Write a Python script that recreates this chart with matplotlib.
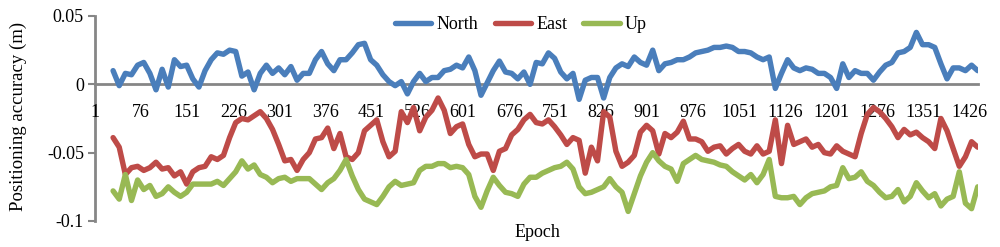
import numpy as np
import matplotlib
matplotlib.use("Agg")
import matplotlib.pyplot as plt

plt.rcParams['font.family'] = ['Liberation Serif', 'DejaVu Serif']
plt.rcParams['axes.unicode_minus'] = False

# epochs of the read-off samples (first ~30 epochs are empty in the chart)
epochs = np.arange(30, 1441, 10)
n_epochs = 1440
tick_labels = [str(t) for t in range(1, 1427, 75)]

north = [
    0.010, -0.001, 0.008, 0.007, 0.014, 0.016, 0.008, -0.004, 0.011, -0.002,
    0.018, 0.013, 0.014, 0.004, -0.002, 0.010, 0.018, 0.023, 0.022, 0.025,
    0.024, 0.006, 0.009, -0.004, 0.008, 0.014, 0.008, 0.012, 0.007, 0.013,
    0.003, 0.008, 0.008, 0.018, 0.024, 0.015, 0.010, 0.018, 0.018, 0.023,
    0.029, 0.030, 0.018, 0.014, 0.007, 0.002, -0.001, 0.002, -0.007, 0.002,
    0.008, 0.002, 0.005, 0.005, 0.010, 0.011, 0.014, 0.012, 0.020, 0.010,
    -0.008, 0.001, 0.010, 0.017, 0.009, 0.008, 0.004, 0.009, 0.000, 0.016,
    0.015, 0.023, 0.019, 0.009, 0.004, 0.008, -0.011, 0.003, 0.005, 0.005,
    -0.010, 0.005, 0.012, 0.015, 0.013, 0.020, 0.016, 0.014, 0.025, 0.010,
    0.015, 0.016, 0.018, 0.018, 0.020, 0.023, 0.024, 0.025, 0.027, 0.027,
    0.028, 0.027, 0.024, 0.024, 0.023, 0.020, 0.018, 0.020, -0.003, 0.008,
    0.018, 0.012, 0.010, 0.012, 0.011, 0.008, 0.008, 0.005, -0.003, 0.015,
    0.005, 0.010, 0.008, 0.008, 0.003, 0.009, 0.014, 0.016, 0.023, 0.024,
    0.027, 0.038, 0.029, 0.029, 0.027, 0.015, 0.004, 0.012, 0.012, 0.010,
    0.014, 0.010,
]

east = [
    -0.039, -0.046, -0.066, -0.061, -0.060, -0.063, -0.061, -0.057, -0.062, -0.061,
    -0.067, -0.064, -0.073, -0.064, -0.061, -0.060, -0.053, -0.055, -0.052, -0.039,
    -0.028, -0.025, -0.026, -0.023, -0.020, -0.025, -0.033, -0.044, -0.056, -0.055,
    -0.063, -0.055, -0.050, -0.040, -0.039, -0.032, -0.047, -0.036, -0.053, -0.055,
    -0.050, -0.034, -0.030, -0.026, -0.042, -0.053, -0.049, -0.020, -0.028, -0.017,
    -0.034, -0.024, -0.019, -0.010, -0.019, -0.036, -0.031, -0.029, -0.044, -0.053,
    -0.051, -0.051, -0.063, -0.049, -0.047, -0.037, -0.033, -0.026, -0.022, -0.028,
    -0.029, -0.026, -0.031, -0.037, -0.044, -0.039, -0.041, -0.065, -0.046, -0.056,
    -0.020, -0.024, -0.049, -0.060, -0.057, -0.052, -0.035, -0.030, -0.034, -0.051,
    -0.036, -0.039, -0.035, -0.027, -0.040, -0.040, -0.042, -0.049, -0.046, -0.045,
    -0.051, -0.047, -0.044, -0.049, -0.051, -0.045, -0.051, -0.049, -0.026, -0.058,
    -0.030, -0.044, -0.042, -0.040, -0.046, -0.044, -0.050, -0.051, -0.045, -0.049,
    -0.051, -0.053, -0.036, -0.022, -0.017, -0.020, -0.025, -0.031, -0.039, -0.033,
    -0.037, -0.035, -0.039, -0.042, -0.047, -0.025, -0.034, -0.047, -0.060, -0.053,
    -0.042, -0.046,
]

up = [
    -0.078, -0.084, -0.066, -0.085, -0.070, -0.077, -0.074, -0.082, -0.080, -0.075,
    -0.079, -0.082, -0.079, -0.073, -0.073, -0.073, -0.073, -0.071, -0.074, -0.069,
    -0.064, -0.056, -0.062, -0.059, -0.066, -0.068, -0.072, -0.069, -0.068, -0.071,
    -0.069, -0.069, -0.069, -0.073, -0.077, -0.072, -0.069, -0.063, -0.055, -0.067,
    -0.077, -0.084, -0.086, -0.088, -0.082, -0.075, -0.071, -0.074, -0.073, -0.072,
    -0.063, -0.060, -0.060, -0.058, -0.058, -0.061, -0.060, -0.061, -0.066, -0.082,
    -0.090, -0.078, -0.068, -0.074, -0.079, -0.080, -0.082, -0.073, -0.068, -0.068,
    -0.065, -0.063, -0.061, -0.060, -0.057, -0.062, -0.075, -0.080, -0.079, -0.077,
    -0.075, -0.069, -0.075, -0.079, -0.093, -0.080, -0.067, -0.057, -0.050, -0.056,
    -0.060, -0.062, -0.071, -0.058, -0.055, -0.052, -0.055, -0.056, -0.057, -0.059,
    -0.060, -0.064, -0.067, -0.070, -0.066, -0.072, -0.066, -0.055, -0.082, -0.083,
    -0.083, -0.082, -0.088, -0.083, -0.080, -0.079, -0.078, -0.075, -0.074, -0.061,
    -0.069, -0.068, -0.064, -0.071, -0.074, -0.079, -0.083, -0.082, -0.077, -0.086,
    -0.082, -0.072, -0.078, -0.083, -0.080, -0.089, -0.084, -0.082, -0.064, -0.087,
    -0.091, -0.075,
]

series = [("North", north, "#4A7EBB"), ("East", east, "#BE4B48"), ("Up", up, "#98B954")]
grey = "#868686"

fig = plt.figure(figsize=(10, 2.47), dpi=100)
ax = fig.add_axes([0.095, 0.1053, 0.883, 0.830])

for name, vals, col in series:
    ax.plot(epochs, vals, color=col, lw=3.9, label=name,
            solid_joinstyle="round", solid_capstyle="round")

ax.set_xlim(0.5, n_epochs + 0.5)
ax.set_ylim(-0.1, 0.05)

ax.spines['top'].set_visible(False)
ax.spines['right'].set_visible(False)
ax.spines['bottom'].set_position(('data', 0))
ax.spines['bottom'].set_color(grey)
ax.spines['bottom'].set_linewidth(2)
ax.spines['bottom'].set_zorder(0.5)
ax.spines['left'].set_color(grey)
ax.spines['left'].set_linewidth(2)
ax.spines['left'].set_zorder(0.5)

ax.set_xticks(range(1, 1427, 75))
ax.set_xticklabels(tick_labels)
ax.tick_params(axis='x', length=0, pad=14, labelsize=13)

ax.set_yticks([-0.1, -0.05, 0, 0.05])
ax.set_yticklabels(["-0.1", "-0.05", "0", "0.05"])
ax.tick_params(axis='y', length=5, width=1.5, color=grey, pad=3, labelsize=13)

fig.text(0.018, 0.53, "Positioning accuracy (m)", rotation=90,
         ha='center', va='center', fontsize=13.5)
fig.text(0.537, 0.057, "Epoch", ha='center', va='center', fontsize=13)

leg = ax.legend(loc='center', bbox_to_anchor=(0.521, 0.899), bbox_transform=fig.transFigure,
                ncol=3, frameon=False, fontsize=13, handlelength=2.0,
                handletextpad=0.3, columnspacing=0.9, borderpad=0)
leg.set_zorder(5)

fig.savefig("out.png", dpi=100)
